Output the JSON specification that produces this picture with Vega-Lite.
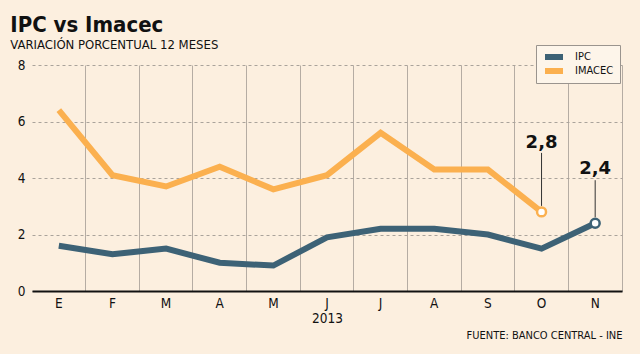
{
  "$schema": "https://vega.github.io/schema/vega-lite/v6.json",
  "width": 640,
  "height": 354,
  "autosize": {"type": "fit", "contains": "padding"},
  "padding": {"left": 10, "right": 18, "top": 14, "bottom": 14},
  "background": "#fcefdf",
  "title": {
    "text": "IPC vs Imacec",
    "subtitle": "VARIACIÓN PORCENTUAL 12 MESES",
    "anchor": "start",
    "frame": "bounds",
    "dx": -7,
    "font": "DejaVu Sans Condensed, DejaVu Sans",
    "fontSize": 22,
    "fontWeight": "bold",
    "color": "#111",
    "subtitleFont": "DejaVu Sans Condensed, DejaVu Sans",
    "subtitleFontSize": 13,
    "subtitleColor": "#111",
    "subtitlePadding": 2,
    "offset": 5
  },
  "config": {
    "view": {"stroke": null},
    "axis": {"labelFont": "DejaVu Sans Condensed, DejaVu Sans", "titleFont": "DejaVu Sans Condensed, DejaVu Sans", "labelColor": "#111", "titleColor": "#111"},
    "legend": {"labelFont": "DejaVu Sans Condensed, DejaVu Sans"}
  },
  "datasets": {
    "series": [
      {"mes": "Ene", "serie": "IPC", "valor": 1.6},
      {"mes": "Feb", "serie": "IPC", "valor": 1.3},
      {"mes": "Mar", "serie": "IPC", "valor": 1.5},
      {"mes": "Abr", "serie": "IPC", "valor": 1.0},
      {"mes": "May", "serie": "IPC", "valor": 0.9},
      {"mes": "Jun", "serie": "IPC", "valor": 1.9},
      {"mes": "Jul", "serie": "IPC", "valor": 2.2},
      {"mes": "Ago", "serie": "IPC", "valor": 2.2},
      {"mes": "Sep", "serie": "IPC", "valor": 2.0},
      {"mes": "Oct", "serie": "IPC", "valor": 1.5},
      {"mes": "Nov", "serie": "IPC", "valor": 2.4},
      {"mes": "Ene", "serie": "IMACEC", "valor": 6.4},
      {"mes": "Feb", "serie": "IMACEC", "valor": 4.1},
      {"mes": "Mar", "serie": "IMACEC", "valor": 3.7},
      {"mes": "Abr", "serie": "IMACEC", "valor": 4.4},
      {"mes": "May", "serie": "IMACEC", "valor": 3.6},
      {"mes": "Jun", "serie": "IMACEC", "valor": 4.1},
      {"mes": "Jul", "serie": "IMACEC", "valor": 5.6},
      {"mes": "Ago", "serie": "IMACEC", "valor": 4.3},
      {"mes": "Sep", "serie": "IMACEC", "valor": 4.3},
      {"mes": "Oct", "serie": "IMACEC", "valor": 2.8}
    ]
  },
  "data": {"name": "series"},
  "layer": [
    {
      "encoding": {
        "x": {
          "field": "mes",
          "type": "nominal",
          "bandPosition": 0.5,
          "sort": ["Ene", "Feb", "Mar", "Abr", "May", "Jun", "Jul", "Ago", "Sep", "Oct", "Nov"],
          "scale": {"type": "band", "paddingInner": 0, "paddingOuter": 0, "domain": ["Ene", "Feb", "Mar", "Abr", "May", "Jun", "Jul", "Ago", "Sep", "Oct", "Nov"]},
          "axis": {
            "orient": "bottom",
            "title": "2013",
            "titleFontSize": 13.5,
            "titleFontWeight": "normal",
            "titlePadding": 2,
            "labelExpr": "substring(datum.label, 0, 1)",
            "labelAngle": 0,
            "labelFontSize": 13.5,
            "labelPadding": 5,
            "bandPosition": 1,
            "ticks": false,
            "grid": true,
            "gridColor": "#b5aca3",
            "gridWidth": 1,
            "domainColor": "#111",
            "domainWidth": 2
          }
        },
        "y": {
          "field": "valor",
          "type": "quantitative",
          "scale": {"domain": [0, 8], "nice": false},
          "axis": {
            "title": null,
            "values": [0, 2, 4, 6, 8],
            "domain": false,
            "ticks": false,
            "labelFontSize": 13.5,
            "labelPadding": 7,
            "gridColor": "#aaa39b",
            "gridDash": [3, 3],
            "gridWidth": 1
          }
        }
      },
      "layer": [
        {
          "mark": {"type": "line", "strokeWidth": 6},
          "encoding": {
            "color": {
              "field": "serie",
              "type": "nominal",
              "scale": {"domain": ["IPC", "IMACEC"], "range": ["#3d6276", "#fbb04f"]},
              "legend": {
                "title": null,
                "orient": "none",
                "legendX": 504,
                "legendY": -20,
                "fillColor": "#fdf5ea",
                "strokeColor": "#9a948e",
                "padding": 6,
                "symbolType": "stroke",
                "symbolStrokeWidth": 6,
                "symbolSize": 324,
                "clipHeight": 12,
                "labelOffset": 9,
                "labelFontSize": 11,
                "labelColor": "#111",
                "rowPadding": 2
              }
            }
          }
        },
        {
          "transform": [{"filter": "(datum.serie == 'IMACEC' && datum.mes == 'Oct') || (datum.serie == 'IPC' && datum.mes == 'Nov')"}],
          "mark": {"type": "point", "filled": false, "fill": "#ffffff", "fillOpacity": 1, "strokeWidth": 2.5, "size": 80, "opacity": 1},
          "encoding": {
            "color": {"field": "serie", "type": "nominal", "legend": null}
          }
        },
        {
          "transform": [{"filter": "datum.serie == 'IMACEC' && datum.mes == 'Oct'"}],
          "mark": {"type": "rule", "color": "#333", "strokeWidth": 1, "yOffset": -6, "y2Offset": -59},
          "encoding": {"y2": {"field": "valor"}}
        },
        {
          "transform": [{"filter": "datum.serie == 'IMACEC' && datum.mes == 'Oct'"}],
          "mark": {"type": "text", "font": "DejaVu Sans", "fontWeight": "bold", "fontSize": 18, "color": "#111", "baseline": "alphabetic", "dy": -64},
          "encoding": {"text": {"value": "2,8"}}
        },
        {
          "transform": [{"filter": "datum.serie == 'IPC' && datum.mes == 'Nov'"}],
          "mark": {"type": "rule", "color": "#333", "strokeWidth": 1, "yOffset": -6, "y2Offset": -43},
          "encoding": {"y2": {"field": "valor"}}
        },
        {
          "transform": [{"filter": "datum.serie == 'IPC' && datum.mes == 'Nov'"}],
          "mark": {"type": "text", "font": "DejaVu Sans", "fontWeight": "bold", "fontSize": 18, "color": "#111", "baseline": "alphabetic", "dy": -49},
          "encoding": {"text": {"value": "2,4"}}
        }
      ]
    },
    {
      "mark": {"type": "rule", "opacity": 0},
      "encoding": {
        "x": {
          "field": "mes",
          "type": "nominal",
          "sort": ["Ene", "Feb", "Mar", "Abr", "May", "Jun", "Jul", "Ago", "Sep", "Oct", "Nov"],
          "axis": {
            "orient": "bottom",
            "title": "FUENTE: BANCO CENTRAL - INE",
            "titleAnchor": "end",
            "titleFontSize": 11,
            "titleFontWeight": "normal",
            "titlePadding": 38,
            "labels": false,
            "ticks": false,
            "domain": false,
            "grid": false
          }
        }
      }
    }
  ],
  "resolve": {"axis": {"x": "independent"}}
}
